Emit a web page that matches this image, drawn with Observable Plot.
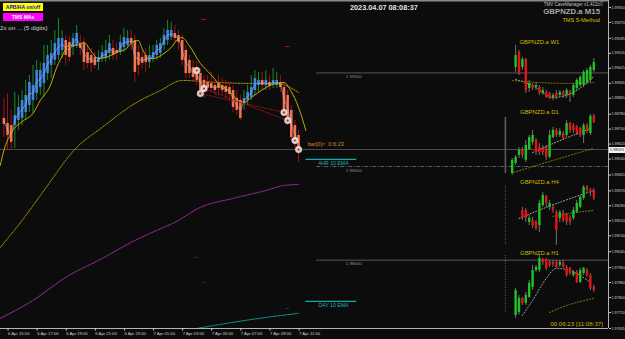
<!DOCTYPE html>
<html><head><meta charset="utf-8">
<script src="https://cdn.jsdelivr.net/npm/d3@7"></script>
<script src="https://cdn.jsdelivr.net/npm/@observablehq/plot@0.6"></script>
<style>
html,body{margin:0;padding:0;background:#0c0c0c;}
#wrap{position:relative;width:625px;height:339px;overflow:hidden;background:#0c0c0c;font-family:"Liberation Sans",Arial,sans-serif;}
#wrap svg{position:absolute;left:0;top:0;}
.t{position:absolute;white-space:nowrap;line-height:1;}
</style></head><body><div id="wrap"></div>
<script>
// ---------- main M15 chart data (Heikin-Ashi bodies + bar high/low) ----------
const haOpen = [1.98757,1.98730,1.98719,1.98719,1.98746,1.98757,1.98789,1.98826,1.98853,1.98890,
1.98922,1.98944,1.98997,1.99040,1.99067,1.99093,1.99120,1.99173,1.99163,1.99136,
1.99147,1.99157,1.99157,1.99109,1.99093,1.99083,1.99056,1.99077,1.99077,1.99104,
1.99131,1.99120,1.99109,1.99136,1.99147,1.99184,1.99173,1.99109,1.99083,1.99093,
1.99056,1.99077,1.99093,1.99104,1.99147,1.99173,1.99189,1.99211,1.99200,1.99173,
1.99120,1.99067,1.99029,1.99024,1.98997,1.98960,1.98949,1.98944,1.98933,1.98944,
1.98933,1.98928,1.98922,1.98906,1.98864,1.98853,1.98837,1.98853,1.98869,1.98906,
1.98933,1.98960,1.98933,1.98949,1.98938,1.98933,1.98949,1.98922,1.98880,1.98800,
1.98719,1.98666];
const haClose = [1.98725,1.98666,1.98629,1.98773,1.98816,1.98853,1.98880,1.98949,1.98933,1.99013,
1.99013,1.99051,1.99093,1.99104,1.99157,1.99184,1.99184,1.99093,1.99083,1.99184,
1.99211,1.99131,1.99056,1.99051,1.99051,1.99040,1.99083,1.99109,1.99120,1.99157,
1.99093,1.99104,1.99163,1.99189,1.99184,1.99157,1.99003,1.99040,1.99051,1.99056,
1.99093,1.99109,1.99147,1.99157,1.99200,1.99227,1.99227,1.99184,1.99163,1.99067,
1.98997,1.98997,1.98976,1.98960,1.98906,1.98896,1.98917,1.98917,1.98906,1.98917,
1.98906,1.98896,1.98885,1.98816,1.98800,1.98757,1.98864,1.98896,1.98922,1.98970,
1.98960,1.98933,1.98960,1.98928,1.98960,1.98960,1.98922,1.98800,1.98746,1.98655,
1.98623,1.98586];
const barHigh = [1.98864,1.98890,1.98800,1.98896,1.98880,1.98906,1.98960,1.98986,1.99040,1.99067,
1.99056,1.99147,1.99147,1.99173,1.99227,1.99291,1.99227,1.99200,1.99195,1.99211,
1.99253,1.99200,1.99184,1.99147,1.99131,1.99109,1.99120,1.99147,1.99173,1.99200,
1.99173,1.99163,1.99200,1.99237,1.99227,1.99227,1.99200,1.99147,1.99120,1.99131,
1.99147,1.99147,1.99173,1.99184,1.99237,1.99280,1.99270,1.99253,1.99227,1.99200,
1.99147,1.99093,1.99067,1.99056,1.99024,1.98986,1.98986,1.99003,1.98960,1.98986,
1.98970,1.98960,1.98949,1.98933,1.98906,1.98880,1.98906,1.98933,1.98986,1.99013,
1.99003,1.99003,1.99013,1.98986,1.99024,1.99003,1.98986,1.98944,1.98906,1.98826,
1.98746,1.98693];
const barLow = [1.98655,1.98586,1.98586,1.98597,1.98693,1.98719,1.98746,1.98789,1.98784,1.98853,
1.98880,1.98869,1.98960,1.98970,1.99040,1.99067,1.99077,1.99040,1.99056,1.99093,
1.99131,1.99093,1.99013,1.99024,1.99003,1.99024,1.99013,1.99056,1.99056,1.99067,
1.99067,1.99067,1.99093,1.99109,1.99131,1.99120,1.98949,1.98986,1.99024,1.99003,
1.99024,1.99056,1.99067,1.99077,1.99120,1.99147,1.99173,1.99163,1.99120,1.99040,
1.98970,1.98970,1.98949,1.98933,1.98880,1.98864,1.98896,1.98896,1.98880,1.98880,
1.98880,1.98864,1.98853,1.98789,1.98773,1.98746,1.98800,1.98826,1.98853,1.98880,
1.98896,1.98906,1.98906,1.98906,1.98917,1.98917,1.98896,1.98773,1.98719,1.98639,
1.98597,1.98522];

// moving averages (bar index, price)
const maFastBar = [-1,0,2,5,8,10,13,14,16,18,20,22,24,26,28,31,34,35,37,38,40,41,44,46,48,49,51,54,57,59,61,63,64,66,68,70,72,75,77,79,81,83];
const maFastVal = [1.98506,1.98586,1.98680,1.98740,1.98784,1.98853,1.98944,1.99003,1.99090,1.99150,1.99147,1.99163,1.99115,1.99077,1.99083,1.99109,1.99136,1.99160,1.99173,1.99130,1.99077,1.99077,1.99104,1.99136,1.99184,1.99189,1.99145,1.99051,1.98990,1.98944,1.98917,1.98880,1.98860,1.98842,1.98869,1.98896,1.98922,1.98944,1.98949,1.98900,1.98816,1.98693];
const maSlowBar = [-1,5,11,20,27,36,43,49,59,68,75,81];
const maSlowVal = [1.98068,1.98212,1.98372,1.98602,1.98709,1.98837,1.98906,1.98960,1.98949,1.98944,1.98944,1.98896];
const maMagBar = [-1,8,17,27,36,42,47,54,63,72,77,81];
const maMagVal = [1.97689,1.97785,1.97908,1.98009,1.98105,1.98159,1.98202,1.98282,1.98330,1.98372,1.98399,1.98404];
const maCyanBar = [53,63,72,81];
const maCyanVal = [1.97635,1.97668,1.97694,1.97716];

// signals & trendlines
const markerBar = [53,55,54,77,78,80,81];
const markerVal = [1.99013,1.98917,1.98890,1.98789,1.98746,1.98639,1.98591];
const trendA = [[54,1.98890],[77,1.98789]];
const trendB = [[55,1.98917],[78,1.98746]];
const redDashBar = [55,78], redDashVal = [1.99286,1.99141];
const blueDashBar = [53,55,78], blueDashVal = [1.98015,1.97881,1.97742];

// levels
const bidPrice = 1.98591;
const roundLevels = [1.99000, 1.98000];
const halfLevel = 1.98500;
const levelStartBar = 86;
const ema4h = 1.98538, emaDay = 1.97780, emaLineBars = [83, 97];
const timerBar = 83.5, timerPrice = 1.98621;

// axes
const yTicks = [1.99350,1.99270,1.99185,1.99105,1.99025,1.98945,1.98865,1.98780,1.98700,1.98620,1.98540,1.98455,1.98370,1.98290,1.98210,1.98130,1.98045,1.97960,1.97880,1.97800,1.97720,1.97635];
const xTickBars = [1,9,17,25,33,41,49,57,65,73,81];
const xTickLabels = ["6 Apr 15:00","6 Apr 17:00","6 Apr 19:00","6 Apr 21:00","6 Apr 23:00","7 Apr 01:00","7 Apr 03:00","7 Apr 05:00","7 Apr 07:00","7 Apr 09:00","7 Apr 11:00"];

// ---------- mini charts (prices read against the main axis) ----------
const w1Open=[1.99029,1.99109,1.99029,1.99072,1.98917,1.98933,1.98922,1.98922,1.98890,1.98896,1.98890,1.98864,1.98890,1.98880,1.98896,1.98880,1.98896,1.98880,1.98917,1.98933,1.98933,1.98949,1.98960,1.99013];
const w1Close=[1.99093,1.98997,1.99072,1.98906,1.98944,1.98917,1.98933,1.98890,1.98906,1.98869,1.98864,1.98880,1.98869,1.98896,1.98880,1.98906,1.98880,1.98933,1.98960,1.98976,1.99003,1.99013,1.99029,1.99056];
const w1High=[1.99147,1.99120,1.99083,1.99077,1.98960,1.98944,1.98949,1.98933,1.98922,1.98906,1.98896,1.98890,1.98906,1.98906,1.98906,1.98917,1.98906,1.98944,1.98970,1.98986,1.99013,1.99024,1.99040,1.99077];
const w1Low=[1.99003,1.98986,1.99013,1.98890,1.98896,1.98906,1.98906,1.98880,1.98880,1.98864,1.98858,1.98853,1.98858,1.98869,1.98864,1.98864,1.98842,1.98869,1.98906,1.98922,1.98922,1.98938,1.98949,1.99003];

const d1Open=[1.98463,1.98517,1.98559,1.98586,1.98533,1.98591,1.98629,1.98639,1.98602,1.98597,1.98602,1.98549,1.98655,1.98693,1.98666,1.98677,1.98666,1.98730,1.98719,1.98709,1.98703,1.98666,1.98719,1.98677,1.98768];
const d1Close=[1.98533,1.98549,1.98586,1.98559,1.98613,1.98655,1.98666,1.98575,1.98575,1.98575,1.98549,1.98666,1.98693,1.98666,1.98687,1.98650,1.98730,1.98693,1.98693,1.98677,1.98666,1.98719,1.98687,1.98768,1.98736];
const d1High=[1.98543,1.98559,1.98602,1.98602,1.98639,1.98666,1.98693,1.98650,1.98623,1.98613,1.98613,1.98693,1.98709,1.98703,1.98703,1.98687,1.98746,1.98736,1.98730,1.98719,1.98709,1.98730,1.98730,1.98778,1.98778];
const d1Low=[1.98452,1.98506,1.98543,1.98543,1.98522,1.98586,1.98613,1.98559,1.98559,1.98559,1.98533,1.98543,1.98650,1.98655,1.98655,1.98639,1.98655,1.98677,1.98677,1.98666,1.98655,1.98623,1.98677,1.98666,1.98730];

const h4Open=[1.98266,1.98266,1.98202,1.98212,1.98202,1.98185,1.98292,1.98340,1.98282,1.98282,1.98255,1.98223,1.98250,1.98239,1.98228,1.98223,1.98255,1.98282,1.98330,1.98388,1.98372,1.98372];
const h4Close=[1.98228,1.98223,1.98223,1.98185,1.98169,1.98303,1.98346,1.98303,1.98303,1.98266,1.98159,1.98255,1.98212,1.98202,1.98202,1.98266,1.98303,1.98335,1.98388,1.98372,1.98362,1.98330];
const h4High=[1.98282,1.98276,1.98239,1.98228,1.98212,1.98319,1.98362,1.98346,1.98319,1.98292,1.98266,1.98266,1.98266,1.98250,1.98239,1.98282,1.98319,1.98346,1.98399,1.98399,1.98383,1.98383];
const h4Low=[1.98212,1.98202,1.98185,1.98169,1.98159,1.98148,1.98282,1.98282,1.98266,1.98250,1.98079,1.98202,1.98202,1.98185,1.98185,1.98212,1.98250,1.98276,1.98319,1.98362,1.98340,1.98319];

const h1Open=[1.97705,1.97721,1.97796,1.97769,1.97801,1.97854,1.97945,1.97945,1.98004,1.98004,1.97988,1.97988,1.97988,1.97972,1.97983,1.97961,1.97956,1.97918,1.97935,1.97881,1.97929,1.97945,1.97918,1.97854];
const h1Close=[1.97838,1.97796,1.97769,1.97812,1.97876,1.97945,1.97961,1.98009,1.97988,1.97956,1.97972,1.97977,1.97961,1.97988,1.97961,1.97918,1.97929,1.97935,1.97881,1.97945,1.97956,1.97918,1.97849,1.97838];
const h1High=[1.97849,1.97812,1.97801,1.97828,1.97892,1.97972,1.97972,1.98025,1.98009,1.98009,1.97999,1.97999,1.97999,1.97999,1.97999,1.97972,1.97961,1.97945,1.97945,1.97956,1.97961,1.97956,1.97929,1.97865];
const h1Low=[1.97689,1.97705,1.97758,1.97758,1.97796,1.97838,1.97935,1.97935,1.97972,1.97945,1.97961,1.97961,1.97956,1.97961,1.97956,1.97908,1.97918,1.97908,1.97876,1.97876,1.97918,1.97908,1.97838,1.97828];

// mini chart indicator lines (slot, price)
const w1WhiteSlot=[1,6,12,18,24], w1WhiteVal=[1.98965,1.98933,1.98869,1.98896,1.98981];
const w1YellowSlot=[0,8,16,24], w1YellowVal=[1.98960,1.98949,1.98944,1.98949];
const d1WhiteSlot=[6,12,23], d1WhiteVal=[1.98575,1.98623,1.98703];
const d1YellowSlot=[0.5,12,24], d1YellowVal=[1.98469,1.98533,1.98597];
const h4WhiteSlot=[2,10,24], h4WhiteVal=[1.98223,1.98282,1.98372];
const h4YellowSlot=[12,17,24], h4YellowVal=[1.98234,1.98250,1.98266];
const h1WhiteSlot=[3,6,10,13,17,23], h1WhiteVal=[1.97705,1.97785,1.97902,1.97956,1.97945,1.97881];
const h1YellowSlot=[11,16,24], h1YellowVal=[1.97721,1.97758,1.97796];
const miniLabels=["GBPNZD.a W1","GBPNZD.a D1","GBPNZD.a H4","GBPNZD.a H1"];
const miniLabelVal=[1.99165,1.98792,1.98418,1.98039];
const sepSolid=[1.98762,1.98463], sepDot1=[1.98399,1.98079], sepDot2=[1.98025,1.97721];

// ---------- build ----------
const xDomain=[-0.935,166.2], yDomain=[1.97635,1.99387];
const bars = haOpen.map((o,i)=>({i,o,c:haClose[i],h:barHigh[i],l:barLow[i]}));
const pts = (xs,ys)=>xs.map((x,k)=>({x,y:ys[k]}));
const BLUE="#3f86e4", ORANGE="#f6714c", GREENW="#1c8a24", REDW="#a3121a";
const tmap = new Map(xTickBars.map((b,k)=>[b,xTickLabels[k]]));
const font = "Liberation Sans, Arial, sans-serif";

const main = Plot.plot({
  width:625, height:339, marginLeft:0, marginRight:17, marginTop:0, marginBottom:11,
  x:{type:"linear", domain:xDomain, axis:null}, y:{type:"linear", domain:yDomain, axis:null},
  style:{background:"transparent", fontFamily:font},
  marks:[
    Plot.ruleY([yDomain[1]], {stroke:"#8a8a8a", strokeWidth:2}),
    Plot.ruleY([bidPrice], {stroke:"#4e4e4e", strokeWidth:1}),
    Plot.ruleY(roundLevels, {x1:levelStartBar, x2:xDomain[1], stroke:"#6c6c6c", strokeWidth:0.8}),
    Plot.ruleY([halfLevel], {x1:levelStartBar, x2:xDomain[1], stroke:"#7a7a7a", strokeWidth:0.8, strokeDasharray:"4,1.5,1,1.5"}),
    Plot.text(roundLevels.concat([halfLevel]), {x:levelStartBar+8, y:d=>d, text:d=>d.toFixed(5), dy:3.6, fill:"#8c8c8c", fontSize:4.4, textAnchor:"start"}),
    Plot.ruleY([ema4h, emaDay], {x1:emaLineBars[0], x2:emaLineBars[1], stroke:"#16a8a8", strokeWidth:1.3}),
    Plot.text([["4HR 10 EMA",ema4h],["DAY 10 EMA",emaDay]], {x:(emaLineBars[0]+emaLineBars[1])/2+0.6, y:d=>d[1], text:d=>d[0], dy:4.2, fill:"#18b4b4", fontSize:5.2}),
    Plot.text(["bar[0]<  0:6:23"], {x:timerBar, y:timerPrice, text:d=>d, fill:"#d8862a", fontSize:5.6, textAnchor:"start"}),
    // moving averages
    Plot.line(pts(maMagBar,maMagVal), {x:"x", y:"y", stroke:"#a22ca6", strokeWidth:1, strokeDasharray:"1.5,1", curve:"monotone-x"}),
    Plot.line(pts(maCyanBar,maCyanVal), {x:"x", y:"y", stroke:"#1a9c9c", strokeWidth:1, strokeDasharray:"1.5,1", curve:"monotone-x"}),
    Plot.line(pts(maSlowBar,maSlowVal), {x:"x", y:"y", stroke:"#a59400", strokeWidth:1, strokeDasharray:"1.5,1.2", curve:"monotone-x"}),
    // candles
    Plot.ruleX(bars, {x:"i", y1:"l", y2:"h", stroke:d=>d.c>=d.o?GREENW:REDW, strokeWidth:1}),
    Plot.ruleX(bars, {x:"i", y1:"o", y2:"c", stroke:d=>d.c>=d.o?BLUE:ORANGE, strokeWidth:2.6}),
    Plot.line(bars, {x:"i", y:d=>(d.o+d.c)/2, stroke:"#a9cdf2", strokeWidth:0.7, strokeOpacity:0.75, curve:"monotone-x"}),
    Plot.line(pts(maFastBar,maFastVal), {x:"x", y:"y", stroke:"#c2ae00", strokeWidth:1, curve:"monotone-x"}),
    // trendlines & signals
    Plot.line(trendA, {x:d=>d[0], y:d=>d[1], stroke:"#b0141c", strokeWidth:0.8, strokeDasharray:"1.5,1.5"}),
    Plot.line(trendB, {x:d=>d[0], y:d=>d[1], stroke:"#b0141c", strokeWidth:0.8, strokeDasharray:"1.5,1.5"}),
    Plot.ruleY(pts(redDashBar,redDashVal), {x1:d=>d.x-0.6, x2:d=>d.x+0.6, y:"y", stroke:"#c01018", strokeWidth:1}),
    Plot.dot(pts(markerBar,markerVal), {x:"x", y:"y", r:3.2, fill:"#e6e6e6", fillOpacity:0.85, stroke:"#ffffff", strokeWidth:0.5}),
    Plot.dot(pts(markerBar,markerVal), {x:"x", y:"y", r:1, fill:"#d0141c"}),
    Plot.ruleY(pts(blueDashBar,blueDashVal), {x1:d=>d.x-0.5, x2:d=>d.x+0.5, y:"y", stroke:"#24248f", strokeWidth:1}),
    // frame + axes
    Plot.ruleY([yDomain[0]], {stroke:"#b4b4b4", strokeWidth:1}),
    Plot.ruleX([xDomain[1]], {stroke:"#b4b4b4", strokeWidth:1}),
    Plot.axisY(yTicks, {anchor:"right", tickSize:2, tickPadding:1, fontSize:3.7, color:"#cfcfcf", tickFormat:d=>d.toFixed(5)}),
    Plot.axisX(xTickBars, {anchor:"bottom", tickSize:2.5, tickPadding:1, fontSize:4.2, color:"#cfcfcf", textAnchor:"start", dx:0.5, tickFormat:d=>tmap.get(d)})
  ]
});
document.getElementById("wrap").appendChild(main);

// mini charts overlay
const SLOTS=25;
function panel(o,c,h,l){const n=o.length;return o.map((v,k)=>({s:k+(SLOTS-n),o:v,c:c[k],h:h[k],l:l[k]}));}
const minis=[].concat(
  panel(w1Open,w1Close,w1High,w1Low),
  panel(d1Open,d1Close,d1High,d1Low),
  panel(h4Open,h4Close,h4High,h4Low),
  panel(h1Open,h1Close,h1High,h1Low));
const whiteSets=[pts(w1WhiteSlot,w1WhiteVal),pts(d1WhiteSlot,d1WhiteVal),pts(h4WhiteSlot,h4WhiteVal),pts(h1WhiteSlot,h1WhiteVal)];
const yellowSets=[pts(w1YellowSlot,w1YellowVal),pts(d1YellowSlot,d1YellowVal),pts(h4YellowSlot,h4YellowVal),pts(h1YellowSlot,h1YellowVal)];
const mini = Plot.plot({
  width:625, height:339, marginLeft:510, marginRight:30, marginTop:0, marginBottom:11,
  x:{type:"linear", domain:[-0.5,SLOTS-0.5], axis:null}, y:{type:"linear", domain:yDomain, axis:null},
  style:{background:"transparent", fontFamily:font},
  marks:[
    Plot.ruleX([-2], {y1:sepSolid[0], y2:sepSolid[1], stroke:"#5c5c5c", strokeWidth:1.6}),
    Plot.ruleX([-2], {y1:sepDot1[0], y2:sepDot1[1], stroke:"#5c5c5c", strokeWidth:1, strokeDasharray:"1,1"}),
    Plot.ruleX([-2], {y1:sepDot2[0], y2:sepDot2[1], stroke:"#5c5c5c", strokeWidth:1, strokeDasharray:"1,1"}),
    ...whiteSets.map(s=>Plot.line(s,{x:"x",y:"y",stroke:"#bdbdbd",strokeWidth:0.9,strokeDasharray:"1,2",curve:"monotone-x"})),
    ...yellowSets.map(s=>Plot.line(s,{x:"x",y:"y",stroke:"#a38d00",strokeWidth:0.9,strokeDasharray:"1,2",curve:"monotone-x"})),
    Plot.ruleX(minis, {x:"s", y1:"l", y2:"h", stroke:"#8c8c8c", strokeWidth:0.8}),
    Plot.ruleX(minis, {x:"s", y1:"o", y2:"c", stroke:d=>d.c>=d.o?"#1fc424":"#e41414", strokeWidth:2.4}),
    Plot.text(miniLabels, {x:8, y:(d,k)=>miniLabelVal[k], text:d=>d, fill:"#cbbb00", fontSize:5.9})
  ]
});
document.getElementById("wrap").appendChild(mini);

// header / status texts
const wrap=document.getElementById("wrap");
function addText(txt, css){const d=document.createElement("div");d.className="t";d.textContent=txt;Object.assign(d.style,css);wrap.appendChild(d);return d;}
addText("APB/HA on/off",{left:"3px",top:"3px",width:"40px",height:"8px",lineHeight:"8px",background:"#ffff00",color:"#1010c0",fontWeight:"bold",fontSize:"5px",textAlign:"center"});
addText("TMS MAs",{left:"3px",top:"13px",width:"40px",height:"8px",lineHeight:"8px",background:"#ff00ff",color:"#ffffff",fontWeight:"bold",fontSize:"5px",textAlign:"center"});
addText("2x on ... (5 digits)",{left:"0px",top:"25px",color:"#d4d4d4",fontSize:"6.2px"});
addText("2023.04.07 08:08:37",{left:"350px",top:"3.5px",color:"#e2e2e2",fontWeight:"bold",fontSize:"7.3px"});
addText("TMV CaveManager v1.412c\u00a9",{right:"22px",top:"3px",color:"#c4c4c4",fontSize:"4.5px"});
addText("GBPNZD.a M15",{right:"25px",top:"7.5px",color:"#a8a8a8",fontWeight:"bold",fontSize:"7.8px"});
addText("TMS 5-Method",{right:"25px",top:"17.5px",color:"#d2bd00",fontSize:"5.7px"});
addText("00:06:23 [11:08:37]",{right:"22px",top:"321px",color:"#c9b300",fontSize:"6.2px"});
addText("1.98591",{left:"609px",top:"147px",width:"16px",height:"6px",lineHeight:"6px",background:"#f4f4f4",color:"#202020",fontSize:"4px",textAlign:"center"});
</script></body></html>
